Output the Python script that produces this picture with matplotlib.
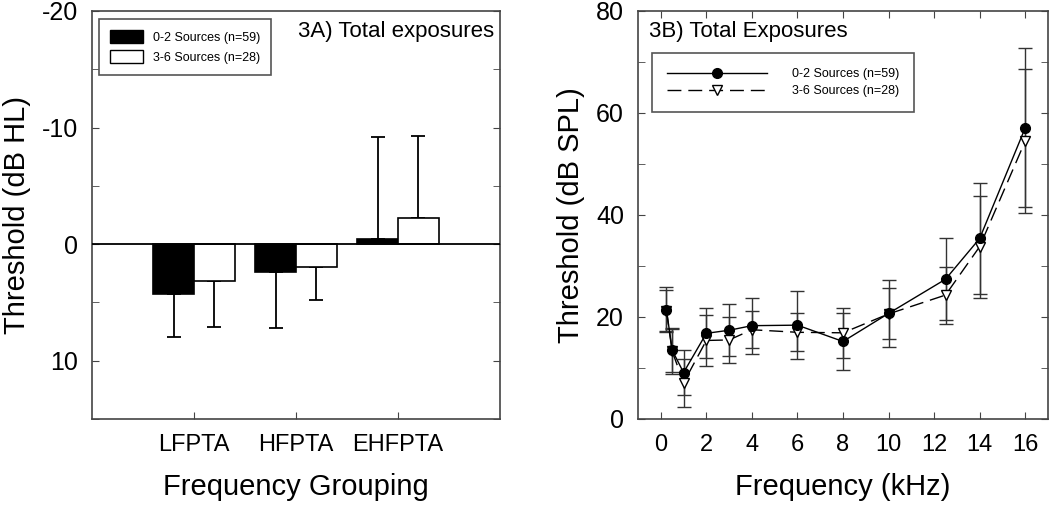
import numpy as np
import matplotlib
matplotlib.use("Agg")
import matplotlib.pyplot as plt
from matplotlib.patches import Patch
from matplotlib.lines import Line2D

plt.rcParams['font.family'] = ['Liberation Sans', 'DejaVu Sans']

# ---- Panel A data ----
groups = ["LFPTA", "HFPTA", "EHFPTA"]
low_src = [4.27, 2.4, -0.4]          # 0-2 Sources (n=59), dB HL
low_err = [3.7, 4.8, 8.8]
high_src = [3.2, 1.95, -2.2]         # 3-6 Sources (n=28)
high_err = [3.9, 2.85, 7.1]

# ---- Panel B data ----
freqs = [0.25, 0.5, 1, 2, 3, 4, 6, 8, 10, 12.5, 14, 16]
thr_low = [21.4, 13.5, 9.1, 16.8, 17.4, 18.3, 18.4, 15.2, 20.7, 27.4, 35.4, 57.1]
sd_low = [4.4, 4.3, 4.4, 4.9, 5.1, 5.5, 6.7, 5.5, 6.6, 8.0, 10.8, 15.6]
thr_high = [21.2, 13.3, 7.1, 15.4, 15.5, 17.5, 17.0, 16.9, 20.6, 24.3, 33.8, 54.5]
sd_high = [4.0, 4.4, 4.7, 5.0, 4.5, 3.6, 3.7, 4.9, 5.0, 5.6, 10.0, 14.1]

label_low = "0-2 Sources (n=59)"
label_high = "3-6 Sources (n=28)"

fig = plt.figure(figsize=(10.5, 5.16), dpi=100)
W, H = 1050, 516
axA = fig.add_axes([92 / W, (H - 419) / H, 408 / W, 408 / H])
axB = fig.add_axes([638 / W, (H - 419) / H, 410 / W, 408 / H])

spine_col = '#444444'
for ax in (axA, axB):
    for s in ax.spines.values():
        s.set_color(spine_col)
        s.set_linewidth(1.2)

XT, YT = 17, 18

# ---------- Panel A ----------
x = np.arange(1, len(groups) + 1)
bw = 0.4
def one_sided(vals, errs):
    v = np.asarray(vals); e = np.asarray(errs)
    lower = np.where(v < 0, e, 0)
    upper = np.where(v >= 0, e, 0)
    return [lower, upper]

axA.bar(x - bw / 2, low_src, width=bw, color='black', edgecolor='black', linewidth=1.2, zorder=2)
axA.bar(x + bw / 2, high_src, width=bw, color='white', edgecolor='black', linewidth=1.2, zorder=2)
axA.errorbar(x - bw / 2, low_src, yerr=one_sided(low_src, low_err), fmt='none',
             ecolor='black', elinewidth=1.3, capsize=5, capthick=1.3, zorder=1)
axA.errorbar(x + bw / 2, high_src, yerr=one_sided(high_src, high_err), fmt='none',
             ecolor='black', elinewidth=1.3, capsize=5, capthick=1.3, zorder=1)
axA.axhline(0, color='black', linewidth=1.3, zorder=3)
axA.set_xlim(0, 4)
axA.set_ylim(15, -20)
axA.set_xticks(x)
axA.set_xticklabels(groups, fontsize=XT)
axA.set_yticks([-20, -10, 0, 10])
axA.set_yticklabels(['-20', '-10', '0', '10'], fontsize=YT)
axA.set_yticks([-15, -5, 5, 15], minor=True)
axA.tick_params(axis='y', which='both', direction='in', left=True, right=True, length=5,
                color=spine_col, pad=10)
axA.tick_params(axis='x', which='both', direction='in', bottom=True, top=False, length=5,
                color=spine_col, pad=11)
axA.set_xlabel("Frequency Grouping", fontsize=21, labelpad=12)
axA.set_ylabel("Threshold (dB HL)", fontsize=21, labelpad=8)
axA.text(0.985, 0.975, "3A) Total exposures", transform=axA.transAxes, ha='right', va='top',
         fontsize=16)
handlesA = [Patch(facecolor='black', edgecolor='black', label=label_low),
            Patch(facecolor='white', edgecolor='black', label=label_high)]
legA = axA.legend(handles=handlesA, loc='upper left', bbox_to_anchor=(0.017, 0.98),
                  borderaxespad=0, fontsize=9, fancybox=False, framealpha=1, borderpad=0.9,
                  handlelength=2.6, handleheight=1.2, labelspacing=0.5, handletextpad=0.8)
legA.get_frame().set_edgecolor('#555555')
legA.get_frame().set_linewidth(1.2)

# ---------- Panel B ----------
axB.errorbar(freqs, thr_low, yerr=sd_low, fmt='none', ecolor='#333333', elinewidth=1.0,
             capsize=5, capthick=1.0, zorder=1)
axB.errorbar(freqs, thr_high, yerr=sd_high, fmt='none', ecolor='#333333', elinewidth=1.0,
             capsize=5, capthick=1.0, zorder=1)
axB.plot(freqs, thr_low, color='black', linewidth=1.0, marker='o', markersize=7,
         markerfacecolor='black', markeredgecolor='black', zorder=3)
axB.plot(freqs, thr_high, color='black', linewidth=1.0, linestyle=(0, (10, 5)), marker='v',
         markersize=7, markerfacecolor='white', markeredgecolor='black', zorder=2)
axB.set_xlim(-1, 17)
axB.set_ylim(0, 80)
axB.set_xticks(np.arange(0, 17, 2))
axB.set_xticklabels([str(v) for v in range(0, 17, 2)], fontsize=XT)
axB.set_yticks([0, 20, 40, 60, 80])
axB.set_yticklabels(['0', '20', '40', '60', '80'], fontsize=YT)
axB.set_yticks([10, 30, 50, 70], minor=True)
axB.tick_params(axis='y', which='both', direction='in', left=True, right=True, length=5,
                color=spine_col, pad=10)
axB.tick_params(axis='x', which='both', direction='in', bottom=True, top=True, length=5,
                color=spine_col, pad=11)
axB.set_xlabel("Frequency (kHz)", fontsize=21, labelpad=12)
axB.set_ylabel("Threshold (dB SPL)", fontsize=21, labelpad=8)
axB.text(0.027, 0.975, "3B) Total Exposures", transform=axB.transAxes, ha='left', va='top',
         fontsize=16)
handlesB = [Line2D([0], [0], color='black', linewidth=1.0, marker='o', markersize=7,
                   markerfacecolor='black', label=label_low),
            Line2D([0], [0], color='black', linewidth=1.0, linestyle=(0, (10, 5)), marker='v',
                   markersize=7, markerfacecolor='white', markeredgecolor='black', label=label_high)]
legB = axB.legend(handles=handlesB, loc='upper left', bbox_to_anchor=(0.034, 0.897),
                  borderaxespad=0, fontsize=9, fancybox=False, framealpha=1, borderpad=1.2,
                  handlelength=8.0, labelspacing=0.4, handletextpad=2.0)
legB.get_frame().set_edgecolor('#555555')
legB.get_frame().set_linewidth(1.2)

fig.savefig("out.png", dpi=100)
